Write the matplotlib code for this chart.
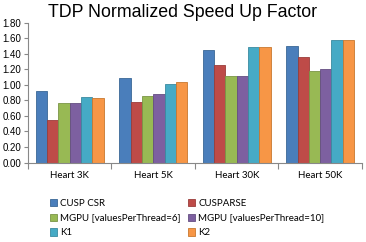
import matplotlib
matplotlib.use("Agg")
import matplotlib.pyplot as plt
import numpy as np

categories = ["Heart 3K", "Heart 5K", "Heart 30K", "Heart 50K"]
series_names = ["CUSP CSR", "CUSPARSE", "MGPU [valuesPerThread=6]",
                "MGPU [valuesPerThread=10]", "K1", "K2"]
cusp_csr = [0.92, 1.09, 1.45, 1.50]
cusparse = [0.55, 0.78, 1.26, 1.36]
mgpu_6 = [0.76, 0.86, 1.11, 1.18]
mgpu_10 = [0.77, 0.88, 1.11, 1.20]
k1 = [0.84, 1.01, 1.48, 1.57]
k2 = [0.83, 1.04, 1.48, 1.57]
colors = ["#4A7EBB", "#BE4B48", "#98B954", "#7D60A0", "#46AAC5", "#F79646"]
edges = ["#3A6796", "#9A3D3A", "#7A9546", "#654F82", "#3A8AA0", "#C8782F"]

series = [cusp_csr, cusparse, mgpu_6, mgpu_10, k1, k2]

fig = plt.figure(figsize=(3.66, 2.42), dpi=100)
ax = fig.add_axes([0.0765, 0.3285, 0.9125, 0.5785])

x = np.arange(len(categories))
w = 0.135
bars = []
for i, (vals, name) in enumerate(zip(series, series_names)):
    b = ax.bar(x + (i - 2.5) * w, vals, w, color=colors[i], edgecolor=edges[i],
               linewidth=0.6, label=name)
    bars.append(b)

ax.set_xlim(-0.5, 3.5)
ax.set_ylim(0, 1.8)
ax.set_yticks(np.arange(0, 1.81, 0.2))
ax.set_yticklabels(["%.2f" % v for v in np.arange(0, 1.81, 0.2)],
                   fontsize=7, family="Liberation Sans")
ax.set_xticks(np.arange(-0.5, 4, 1))
ax.set_xticklabels([])
ax.set_xticks(x, minor=True)
ax.set_xticklabels(categories, minor=True, fontsize=7, family="Lato")
ax.tick_params(axis="x", which="major", length=4, color="#888888")
ax.tick_params(axis="x", which="minor", length=0, pad=6)
ax.tick_params(axis="y", length=3, color="#888888", pad=2)
for s in ["top", "right"]:
    ax.spines[s].set_visible(False)
for s in ["left", "bottom"]:
    ax.spines[s].set_color("#888888")
    ax.spines[s].set_linewidth(0.8)

fig.suptitle("TDP Normalized Speed Up Factor", fontsize=12.8,
             family="Liberation Sans", y=0.985)

# legend fills row-wise like the original
order = [0, 2, 4, 1, 3, 5]
leg = fig.legend([bars[i] for i in order], [series_names[i] for i in order],
                 loc="upper left", bbox_to_anchor=(0.125, 0.195), ncol=2,
                 frameon=False, prop={"family": "Lato", "size": 7},
                 handlelength=0.75, handleheight=0.75, handletextpad=0.3,
                 columnspacing=0.8, labelspacing=0.6, borderaxespad=0)

fig.savefig("out.png", dpi=100)
